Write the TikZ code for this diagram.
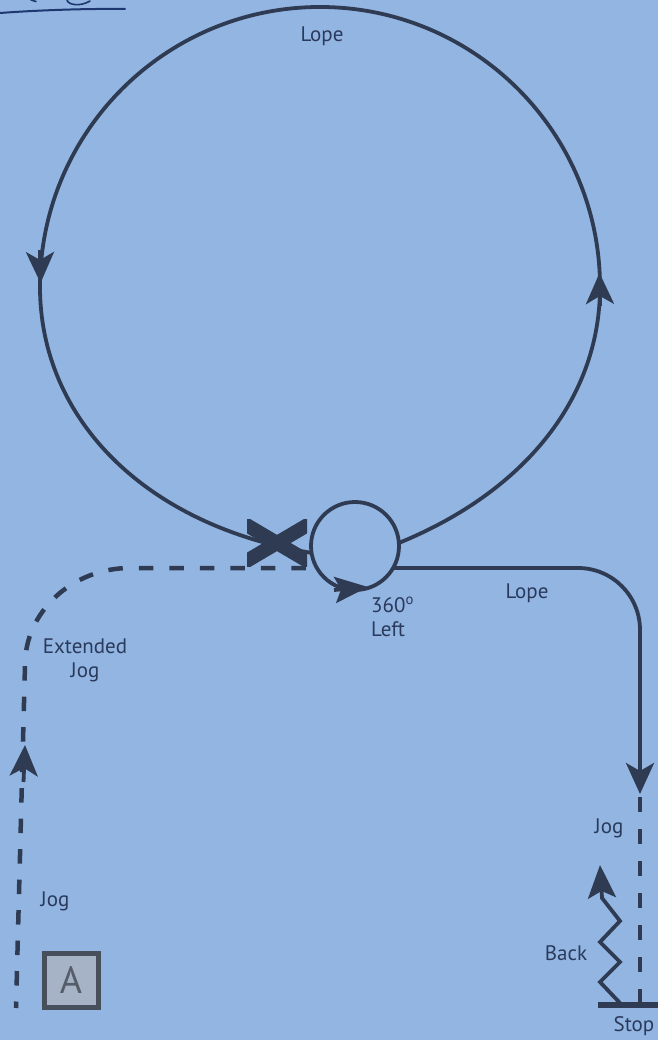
\documentclass[tikz,border=0pt]{standalone}
\usepackage{fontspec}
\setmainfont{PT Sans}
\usetikzlibrary{arrows.meta}
\definecolor{bg}{HTML}{93B5E2}
\definecolor{ink}{HTML}{2E3B52}
\definecolor{txt}{HTML}{2A3A5C}
\definecolor{boxfill}{HTML}{A6B3C6}
\definecolor{boxline}{HTML}{474F5C}
\definecolor{boxtext}{HTML}{555D68}
\definecolor{pen}{HTML}{1E3770}
\begin{document}
\begin{tikzpicture}[x=1pt,y=-1pt,
  solidpath/.style={draw=ink, line width=3.8pt},
  dashpath/.style={draw=ink, line width=4.5pt, dash pattern=on 14.5pt off 16pt},
  headtip/.style={-{Stealth[length=31pt,width=28pt,inset=8pt]}, draw=ink, line width=3.8pt},
  lbl/.style={text=txt, font=\fontsize{21}{24}\selectfont, inner sep=0pt, align=center}]
\useasboundingbox (0,0) rectangle (658,1040);
\fill[bg] (0,0) rectangle (658,1040);

% handwriting remnant, top left
\draw[pen, line width=2pt, line cap=round] (0,13) .. controls (40,10) and (90,8.5) .. (125,9);
\draw[pen, line width=1.6pt, line cap=round] (67,0) .. controls (68,5) and (80,7) .. (90,1);
\draw[pen, line width=1.6pt, line cap=round] (31,0) -- (36,1.5);

% small 360 circle
\node[circle, draw=ink, line width=3.8pt, minimum size=88pt, inner sep=0pt, outer sep=0pt] (turnc) at (355,546) {};

% big loop
\coordinate (bigR) at (600,287);
\coordinate (bigT) at (320,7);
\coordinate (bigL) at (40,287);
\draw[solidpath] (turnc.4) .. controls (526,491) and (600,397) .. (bigR)
  .. controls (600,132.4) and (474.6,7) .. (bigT)
  .. controls (165.4,7) and (40,132.4) .. (bigL)
  .. controls (40,417) and (143,525) .. (turnc.189);

% arrowheads on big loop
\coordinate (la1) at (40,250); \coordinate (la2) at (40.5,283);
\draw[headtip] (la1) -- (la2);
\coordinate (ra1) at (600,306); \coordinate (ra2) at (599.5,273);
\draw[headtip] (ra1) -- (ra2);

% arrowhead on small circle
\coordinate (sa1) at (334,590); \coordinate (sa2) at (368,587);
\draw[-{Stealth[length=33pt,width=26pt,inset=6pt]}, draw=ink, line width=3.8pt] (sa1) -- (sa2);

% X mark
\begin{scope}
\clip (247,519) rectangle (307,566);
\draw[ink, line width=14pt] (238,520) -- (316,566);
\draw[ink, line width=14pt] (316,520) -- (238,566);
\end{scope}

% left dashed route (Jog / Extended Jog)
\coordinate (lstart) at (16,1008);
\coordinate (lbend) at (25,665);
\coordinate (ltop) at (130,568);
\draw[dashpath, dash phase=8pt] (lstart) -- (lbend) .. controls (25,612) and (72,568) .. (ltop) -- (turnc.210);
\coordinate (lu1) at (23.5,782); \coordinate (lu2) at (25,745);
\draw[headtip] (lu1) -- (lu2);

% right route (Lope then Jog)
\coordinate (rcorner) at (640,568);
\coordinate (rtip) at (640,794);
\draw[solidpath, rounded corners=62pt, -{Stealth[length=31pt,width=28pt,inset=8pt]}] (turnc.330) -- (rcorner) -- (rtip);
\coordinate (rdash1) at (640,797);
\coordinate (rdash2) at (640,1003);
\draw[draw=ink, line width=4.5pt, dash pattern=on 15pt off 17pt] (rdash1) -- (rdash2);

% stop line
\coordinate (stop1) at (598,1005);
\coordinate (stop2) at (658,1005);
\draw[ink, line width=6pt] (stop1) -- (stop2);

% back zigzag
\coordinate (z0) at (620,1003);
\coordinate (zt) at (600,865);
\draw[draw=ink, line width=3.8pt, -{Stealth[length=33pt,width=28pt,inset=7pt]}]
  (z0) -- (600,982) -- (620,962) -- (600,942) -- (620,921) -- (602,898) -- (zt);

% labels
\node[lbl] (lopeTop) at (322,36) {Lope};
\node[lbl] (lopeR) at (527,593) {Lope};
\node[lbl, align=left, anchor=north west] (turn) at (371,597) {360\textsuperscript{o}\\Left};
\node[lbl] (ext) at (85,660) {Extended\\Jog};
\node[lbl] (jogL) at (55,901) {Jog};
\node[lbl] (jogR) at (609,828) {Jog};
\node[lbl] (back) at (566,953) {Back};
\node[lbl] (stop) at (634,1026) {Stop};

% marker A
\node[draw=boxline, fill=boxfill, line width=5pt, minimum size=54pt, inner sep=0pt,
      text=boxtext, font=\fontsize{38}{38}\selectfont] (markA) at (71,980) {A};
\end{tikzpicture}
\end{document}
